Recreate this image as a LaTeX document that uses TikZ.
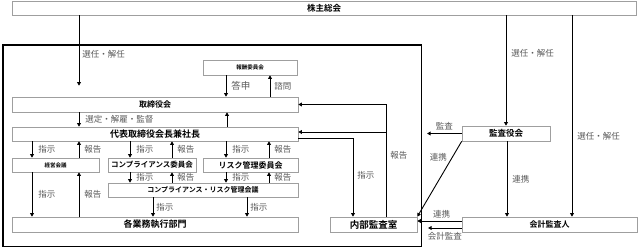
\documentclass[tikz,border=0pt]{standalone}
\usepackage{fontspec}
\setmainfont{Noto Sans CJK JP}[BoldFont={Noto Sans CJK JP Bold}]
\usetikzlibrary{arrows.meta}
\newcommand{\jsize}[1]{\fontsize{#1}{#1}\selectfont}

\begin{document}
\begin{tikzpicture}[
    x=1pt, y=-1pt,
    orgbox/.style={rectangle, draw=gray!75, line width=0.6pt, fill=white, inner sep=0pt, minimum height=15pt, font=\bfseries\jsize{8.5}},
    arrow/.style={-{Triangle[length=3.6pt,width=3.8pt]}, line width=0.9pt, black},
    lbl/.style={font=\jsize{8.5}, text=black!65, inner sep=1pt}
]
\useasboundingbox (0,0) rectangle (639,248);

% 社内の枠
\draw[line width=1.1pt] (3,45) rectangle (421.5,246.5);

\node[orgbox, minimum width=624pt, minimum height=14pt] (kabu) at (324,8) {株主総会};
\node[orgbox, minimum width=94pt, font=\bfseries\jsize{5.5}] (hoshu) at (250,67.5) {報酬委員会};
\node[orgbox, minimum width=286pt, font=\bfseries\jsize{8}] (torishimari) at (155,104.5) {取締役会};
\node[orgbox, minimum width=286pt, minimum height=14pt, font=\bfseries\jsize{9}] (daihyo) at (155,134) {代表取締役会長兼社長};
\node[orgbox, minimum width=87pt, minimum height=14pt, font=\bfseries\jsize{5.5}] (keiei) at (55.5,165) {経営会議};
\node[orgbox, minimum width=88pt, minimum height=14pt, font=\bfseries\jsize{7.5}] (compl) at (152,165) {コンプライアンス委員会};
\node[orgbox, minimum width=95pt, minimum height=14pt, font=\bfseries\jsize{8}] (risk) at (250.5,165) {リスク管理委員会};
\node[orgbox, minimum width=190pt, minimum height=14pt, font=\bfseries\jsize{7}] (crkaigi) at (203,190) {コンプライアンス・リスク管理会議};
\node[orgbox, minimum width=286pt, font=\bfseries\jsize{9}] (gyomu) at (155,224.5) {各業務執行部門};
\node[orgbox, minimum width=87pt, font=\bfseries\jsize{9.5}] (naibu) at (373.5,224.5) {内部監査室};
\node[orgbox, minimum width=88pt, font=\bfseries\jsize{8.5}] (kansayaku) at (506,133.5) {監査役会};
\node[orgbox, minimum width=175pt, font=\bfseries\jsize{8}] (kaikei) at (549.5,224.5) {会計監査人};

\coordinate (kansa-end) at (427,133.5);
\coordinate (kaikei-end) at (428,228);
\coordinate (hokoku-fork) at (386,132);

% 株主総会から
\draw[arrow, shorten >=11pt] (kabu.south -| 79,0) -- (torishimari.north -| 79,0) node[lbl, pos=0.48, right=2pt] (l-sennin-a) {選任・解任};
\draw[arrow] (kabu.south -| 506,0) -- (kansayaku.north -| 506,0) node[lbl, pos=0.34, right=4pt] (l-sennin-b) {選任・解任};
\draw[arrow] (kabu.south -| 572,0) -- (kaikei.north -| 572,0) node[lbl, pos=0.6, right=4pt] (l-sennin-c) {選任・解任};

% 報酬委員会
\draw[arrow] (hoshu.south -| 226,0) -- (torishimari.north -| 226,0) node[lbl, midway, right=4pt, font=\jsize{9.5}] (l-toshin) {答申};
\draw[arrow] (torishimari.north -| 270,0) -- (hoshu.south -| 270,0) node[lbl, midway, right=3pt] (l-shimon) {諮問};

% 取締役会と代表取締役
\draw[arrow] (torishimari.south -| 79,0) -- (daihyo.north -| 79,0) node[lbl, midway, right=5pt] (l-sentei) {選定・解雇・監督};
\draw[arrow] (daihyo.north -| 227,0) -- (torishimari.south -| 227,0);

% 指示・報告
\foreach \dx/\ux/\dst in {32/79/keiei, 130/172/compl, 226/269/risk} {
  \draw[arrow] (daihyo.south -| \dx,0) -- (\dst.north -| \dx,0) node[lbl, midway, right=5pt] {指示};
  \draw[arrow] (\dst.north -| \ux,0) -- (daihyo.south -| \ux,0) node[lbl, midway, right=4pt] {報告};
}
\foreach \dx/\ux/\src/\dst in {32/79/keiei/gyomu, 130/172/compl/crkaigi, 226/269/risk/crkaigi} {
  \draw[arrow] (\src.south -| \dx,0) -- (\dst.north -| \dx,0) node[lbl, midway, right=5pt] {指示};
  \draw[arrow] (\dst.north -| \ux,0) -- (\src.south -| \ux,0) node[lbl, midway, right=4pt] {報告};
}
\foreach \dx in {153, 247}
  \draw[arrow] (crkaigi.south -| \dx,0) -- (gyomu.north -| \dx,0) node[lbl, midway, right=2pt] {指示};

% 内部監査室
\draw[arrow] (naibu.north -| 386,0) |- (torishimari.east) node[lbl, pos=0.275, right=3pt] (l-hokoku) {報告};
\draw[arrow] (hokoku-fork) -- (daihyo.east |- 0,132);
\draw[arrow] (daihyo.east |- 0,138) -| (naibu.north -| 353,0) node[lbl, pos=0.735, right=3pt] (l-shiji) {指示};

% 監査役会・会計監査人
\draw[arrow] (kansayaku.west) -- (kansa-end) node[lbl, midway, above=2pt] (l-kansa) {監査};
\draw[arrow] (kansayaku.south -| 507,0) -- (kaikei.north -| 507,0) node[lbl, midway, right=4pt] (l-renkei-a) {連携};
\draw[arrow] (kansayaku.south west) -- (naibu.north east) node[lbl, pos=0.21, left=4pt] (l-renkei-b) {連携};
\draw[arrow] (kaikei.west |- 0,221) -- (naibu.east |- 0,221) node[lbl, pos=0.45, above=1pt] (l-renkei-c) {連携};
\draw[arrow] (kaikei.west |- 0,228) -- (kaikei-end) node[lbl, midway, below=3pt] (l-kaikei) {会計監査};

\end{tikzpicture}
\end{document}
